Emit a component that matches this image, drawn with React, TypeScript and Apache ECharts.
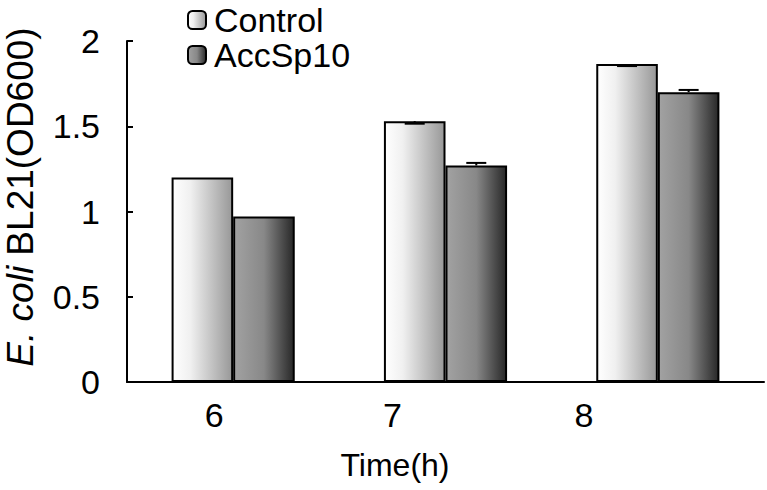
import React, { useEffect, useRef } from "react";
import * as echarts from "echarts";

const categories = ["6", "7", "8"];
const seriesNames = ["Control", "AccSp10"];
const controlValues = [1.2, 1.53, 1.865];
const accValues = [0.97, 1.27, 1.7];
const controlErr = [0, 0.015, 0.012];
const accErr = [0, 0.015, 0.013];
const yTicks = [0, 0.5, 1, 1.5, 2];

// layout (pixel shifts of the x tick labels, as in the reference)
const labelShift = [38, 106, 148];
const BAR_FRAC = 0.29;

const FONT = "Liberation Sans, Arial, sans-serif";

export default function App() {
  const ref = useRef<HTMLDivElement>(null);
  useEffect(() => {
    if (!ref.current) return;
    const chart = echarts.init(ref.current, null, { renderer: "svg" });
    const ctrlGrad = new echarts.graphic.LinearGradient(0, 0, 1, 0, [
      { offset: 0, color: "#ffffff" },
      { offset: 0.3, color: "#f0f0f0" },
      { offset: 1, color: "#989898" },
    ]);
    const accGrad = new echarts.graphic.LinearGradient(0, 0, 1, 0, [
      { offset: 0, color: "#a2a2a2" },
      { offset: 0.5, color: "#888888" },
      { offset: 1, color: "#282828" },
    ]);
    const errSeries = (vals: number[], errs: number[], sign: number, name: string) => ({
      type: "custom",
      name: name + "_err",
      z: 5,
      silent: true,
      data: vals.map((v, i) => [i, v, errs[i]]),
      renderItem: (params: any, api: any) => {
        const e = api.value(2);
        if (!e) return null;
        const idx = api.value(0);
        const v = api.value(1);
        const c = api.coord([idx, v]);
        const bandW = api.size([1, 0])[0];
        const barW = bandW * BAR_FRAC;
        const x = c[0] + sign * barW / 2;
        const yEnd = api.coord([idx, sign < 0 ? v - e : v + e])[1];
        const cap = 10;
        const st = { stroke: "#000", lineWidth: 2 };
        return {
          type: "group",
          children: [
            { type: "line", shape: { x1: x, y1: c[1], x2: x, y2: yEnd }, style: st },
            { type: "line", shape: { x1: x - cap, y1: yEnd, x2: x + cap, y2: yEnd }, style: st },
          ],
        };
      },
    });
    chart.setOption({
      animation: false,
      textStyle: { fontFamily: FONT, color: "#000" },
      grid: { left: 127, right: 3, top: 41, bottom: 108, containLabel: false },
      legend: {
        orient: "vertical",
        left: 187,
        top: 3,
        padding: 0,
        itemWidth: 18,
        itemHeight: 18,
        itemGap: 1,
        data: seriesNames,
        textStyle: { fontSize: 34, color: "#000", fontFamily: FONT, lineHeight: 34, padding: [0, 0, 0, 3] },
        itemStyle: { borderColor: "#000", borderWidth: 2 },
      },
      xAxis: {
        type: "category",
        data: categories,
        axisLine: { lineStyle: { color: "#000", width: 2 } },
        axisTick: { show: false },
        axisLabel: {
          fontSize: 34,
          color: "#000",
          margin: 16,
          fontFamily: FONT,
          formatter: (v: string, i: number) => `{s${i}|${v}}`,
          rich: {
            s0: { fontSize: 34, fontFamily: FONT, padding: [0, labelShift[0], 0, 0] },
            s1: { fontSize: 34, fontFamily: FONT, padding: [0, labelShift[1], 0, 0] },
            s2: { fontSize: 34, fontFamily: FONT, padding: [0, labelShift[2], 0, 0] },
          },
        },
      },
      yAxis: {
        type: "value",
        min: yTicks[0],
        max: yTicks[yTicks.length - 1],
        interval: 0.5,
        splitLine: { show: false },
        axisLine: { show: true, lineStyle: { color: "#000", width: 2 } },
        axisTick: { show: true, inside: true, length: 6, lineStyle: { color: "#000", width: 2 } },
        axisLabel: { fontSize: 34, color: "#000", margin: 27, fontFamily: FONT, padding: [4, 0, 0, 0] },
      },
      graphic: [
        {
          type: "text",
          x: 20,
          y: 197,
          rotation: Math.PI / 2,
          style: {
            text: "{i|E. coli} BL21(OD600)",
            font: `37px ${FONT}`,
            fill: "#000",
            align: "center",
            verticalAlign: "middle",
            lineHeight: 34,
            rich: { i: { fontStyle: "italic", fontSize: 37, fontFamily: FONT, fill: "#000", lineHeight: 34 } },
          },
        },
        {
          type: "text",
          x: 395,
          y: 465,
          style: {
            text: "Time(h)",
            font: `32px ${FONT}`,
            fill: "#000",
            align: "center",
            verticalAlign: "middle",
          },
        },
      ],
      series: [
        {
          type: "bar",
          name: seriesNames[0],
          data: controlValues,
          barWidth: `${BAR_FRAC * 100}%`,
          barGap: "0%",
          itemStyle: { color: ctrlGrad, borderColor: "#000", borderWidth: 2 },
        },
        {
          type: "bar",
          name: seriesNames[1],
          data: accValues,
          barWidth: `${BAR_FRAC * 100}%`,
          barGap: "0%",
          itemStyle: { color: accGrad, borderColor: "#000", borderWidth: 2 },
        },
        errSeries(controlValues, controlErr, -1, seriesNames[0]),
        errSeries(accValues, accErr, 1, seriesNames[1]),
      ],
    });
    return () => chart.dispose();
  }, []);
  return <div ref={ref} style={{ width: 767, height: 490, position: "absolute", left: 0, top: 0 }} />;
}
